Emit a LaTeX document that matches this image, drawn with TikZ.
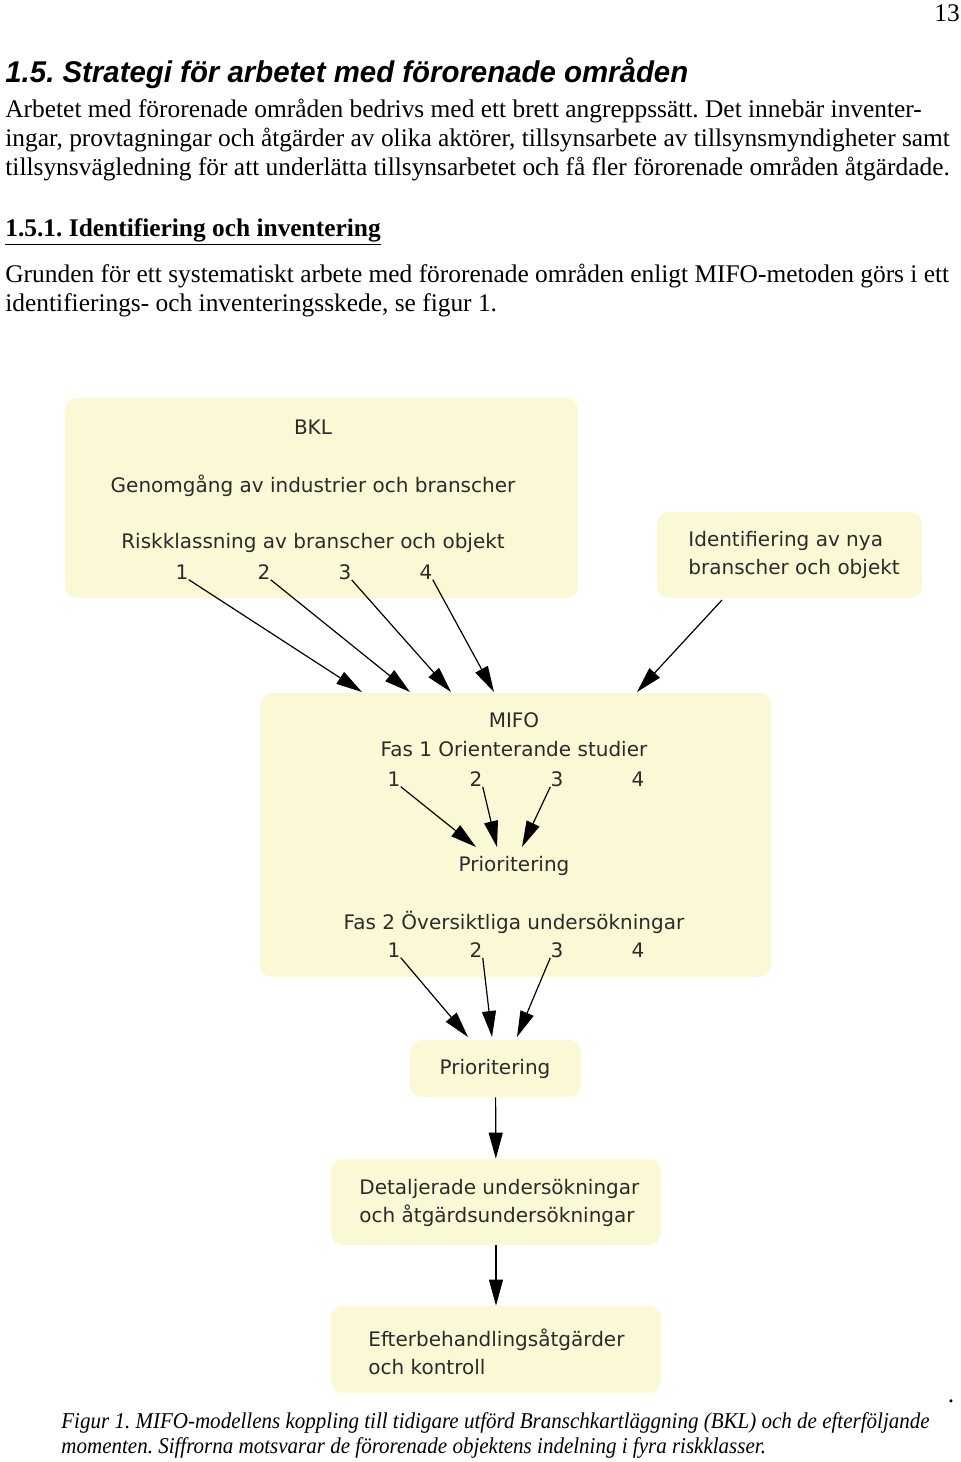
\documentclass[tikz,border=0pt]{standalone}
\usepackage{fontspec}
\setmainfont{Liberation Serif}
\newfontfamily\headfont[FakeStretch=0.98]{Liberation Sans}
\newfontfamily\capfont[FakeStretch=0.93]{Liberation Serif}
\newfontfamily\figfont{DejaVu Sans}
\usetikzlibrary{arrows.meta,positioning}
\definecolor{boxfill}{HTML}{FBF8D6}
\definecolor{figtext}{HTML}{2B2B2B}
\frenchspacing

\begin{document}
\begin{tikzpicture}[
    x = 0.5pt, y = -0.5pt,
    %thick,
    page/.style = {anchor = west, inner sep = 0pt, font = \fontsize{12.7}{15}\selectfont},
    heading/.style = {page, font = \headfont\bfseries\itshape\fontsize{15}{18}\selectfont},
    caption/.style = {page, font = \capfont\itshape\fontsize{11.3}{13}\selectfont},
    box/.style = {fill = boxfill, rounded corners = 6pt, inner sep = 0pt},
    figlabel/.style = {inner sep = 0pt, text = figtext, font = \figfont\fontsize{10}{14}\selectfont},
    leftlabel/.style = {figlabel, anchor = west, align = left},
    riskclass/.style = {figlabel},
    arrowline/.style = {-{Triangle[length = 13pt, width = 7pt]}, line width = 0.6pt}
  ]
  \useasboundingbox (0,0) rectangle (960,1462);

  % Page text
  \node [page, anchor = center] (pagenr) at (947,13) {13};
  \node [heading] (h15) at (5,73) {1.5. Strategi för arbetet med förorenade områden};
  \node [page] (t1) at (5,111) {Arbetet med förorenade områden bedrivs med ett brett angreppssätt. Det innebär inventer-};
  \node [page] (t2) at (5,140) {ingar, provtagningar och åtgärder av olika aktörer, tillsynsarbete av tillsynsmyndigheter samt};
  \node [page] (t3) at (5,169) {tillsynsvägledning för att underlätta tillsynsarbetet och få fler förorenade områden åtgärdade.};
  \node [page, font = \bfseries\fontsize{12.7}{15}\selectfont] (h151) at (5,232) {\underline{1.5.1. Identifiering och inventering}};
  \node [page] (t4) at (5,276) {Grunden för ett systematiskt arbete med förorenade områden enligt MIFO-metoden görs i ett};
  \node [page] (t5) at (5,305) {identifierings- och inventeringsskede, se figur 1.};

  % Boxes
  \node [box, minimum width = 256.5pt, minimum height = 100pt] (bkl) at (321.5,498) {};
  \node [box, minimum width = 132.5pt, minimum height = 43pt] (ident) at (789.5,555) {};
  \node [box, minimum width = 255.5pt, minimum height = 142pt] (mifo) at (515.5,835) {};
  \node [box, minimum width = 85.5pt, minimum height = 28.5pt] (prio) at (495.5,1068.5) {};
  \node [box, minimum width = 165pt, minimum height = 43pt] (detalj) at (496,1202) {};
  \node [box, minimum width = 165pt, minimum height = 43.5pt] (efter) at (496,1349.5) {};

  % BKL
  \node [figlabel] (bkltitle) at (313,427) {BKL};
  \node [figlabel] (genom) at (313,486) {Genomgång av industrier och branscher};
  \node [figlabel] (risk) at (313,543) {Riskklassning av branscher och objekt};
  \node [riskclass] (b1) at (182,572) {1};
  \node [riskclass] (b2) at (264,572) {2};
  \node [riskclass] (b3) at (345,572) {3};
  \node [riskclass] (b4) at (426,572) {4};
  \node [leftlabel] (identtext) at (688,555) {Identifiering av nya\\branscher och objekt};

  % MIFO
  \node [figlabel] (mifotitle) at (514,720) {MIFO};
  \node [figlabel] (fas1) at (514,749) {Fas 1 Orienterande studier};
  \node [riskclass] (p1) at (394,779) {1};
  \node [riskclass] (p2) at (476,779) {2};
  \node [riskclass] (p3) at (557,779) {3};
  \node [riskclass] (p4) at (638,779) {4};
  \node [figlabel] (prio1) at (514,866) {Prioritering};
  \node [figlabel] (fas2) at (514,922) {Fas 2 Översiktliga undersökningar};
  \node [riskclass] (r1) at (394,950) {1};
  \node [riskclass] (r2) at (476,950) {2};
  \node [riskclass] (r3) at (557,950) {3};
  \node [riskclass] (r4) at (638,950) {4};

  \node [figlabel] (priotext) at (495,1069) {Prioritering};
  \node [leftlabel] (detaljtext) at (359,1203) {Detaljerade undersökningar\\och åtgärdsundersökningar};
  \node [leftlabel] (eftertext) at (368,1352) {Efterbehandlingsåtgärder\\och kontroll};

  % Arrow ends
  \coordinate (m1) at (362,692);
  \coordinate (m2) at (410,692);
  \coordinate (m3) at (451,692);
  \coordinate (m4) at (494,692);
  \coordinate (m5) at (637,692);
  \coordinate (idout) at (722,600);
  \coordinate (q1) at (476,847);
  \coordinate (q2) at (497,847);
  \coordinate (q3) at (522,847);
  \coordinate (s1) at (468,1037);
  \coordinate (s2) at (492,1037);
  \coordinate (s3) at (517,1037);

  % Arrows
  \draw [arrowline] (b1.south east) -- (m1);
  \draw [arrowline] (b2.south east) -- (m2);
  \draw [arrowline] (b3.south east) -- (m3);
  \draw [arrowline] (b4.south east) -- (m4);
  \draw [arrowline] (idout) -- (m5);
  \draw [arrowline] (p1.south east) -- (q1);
  \draw [arrowline] (p2.south east) -- (q2);
  \draw [arrowline] (p3.south west) -- (q3);
  \draw [arrowline] (r1.south east) -- (s1);
  \draw [arrowline] (r2.south east) -- (s2);
  \draw [arrowline] (r3.south west) -- (s3);
  \draw [arrowline] (prio) -- (detalj);
  \draw [arrowline] (detalj) -- (efter);

  % Caption
  \node [page, anchor = center] (dot) at (951,1401) {.};
  \node [caption] (cap1) at (61,1423) {Figur 1. MIFO-modellens koppling till tidigare utförd Branschkartläggning (BKL) och de efterföljande};
  \node [caption] (cap2) at (61,1448) {momenten. Siffrorna motsvarar de förorenade objektens indelning i fyra riskklasser.};
\end{tikzpicture}
\end{document}
